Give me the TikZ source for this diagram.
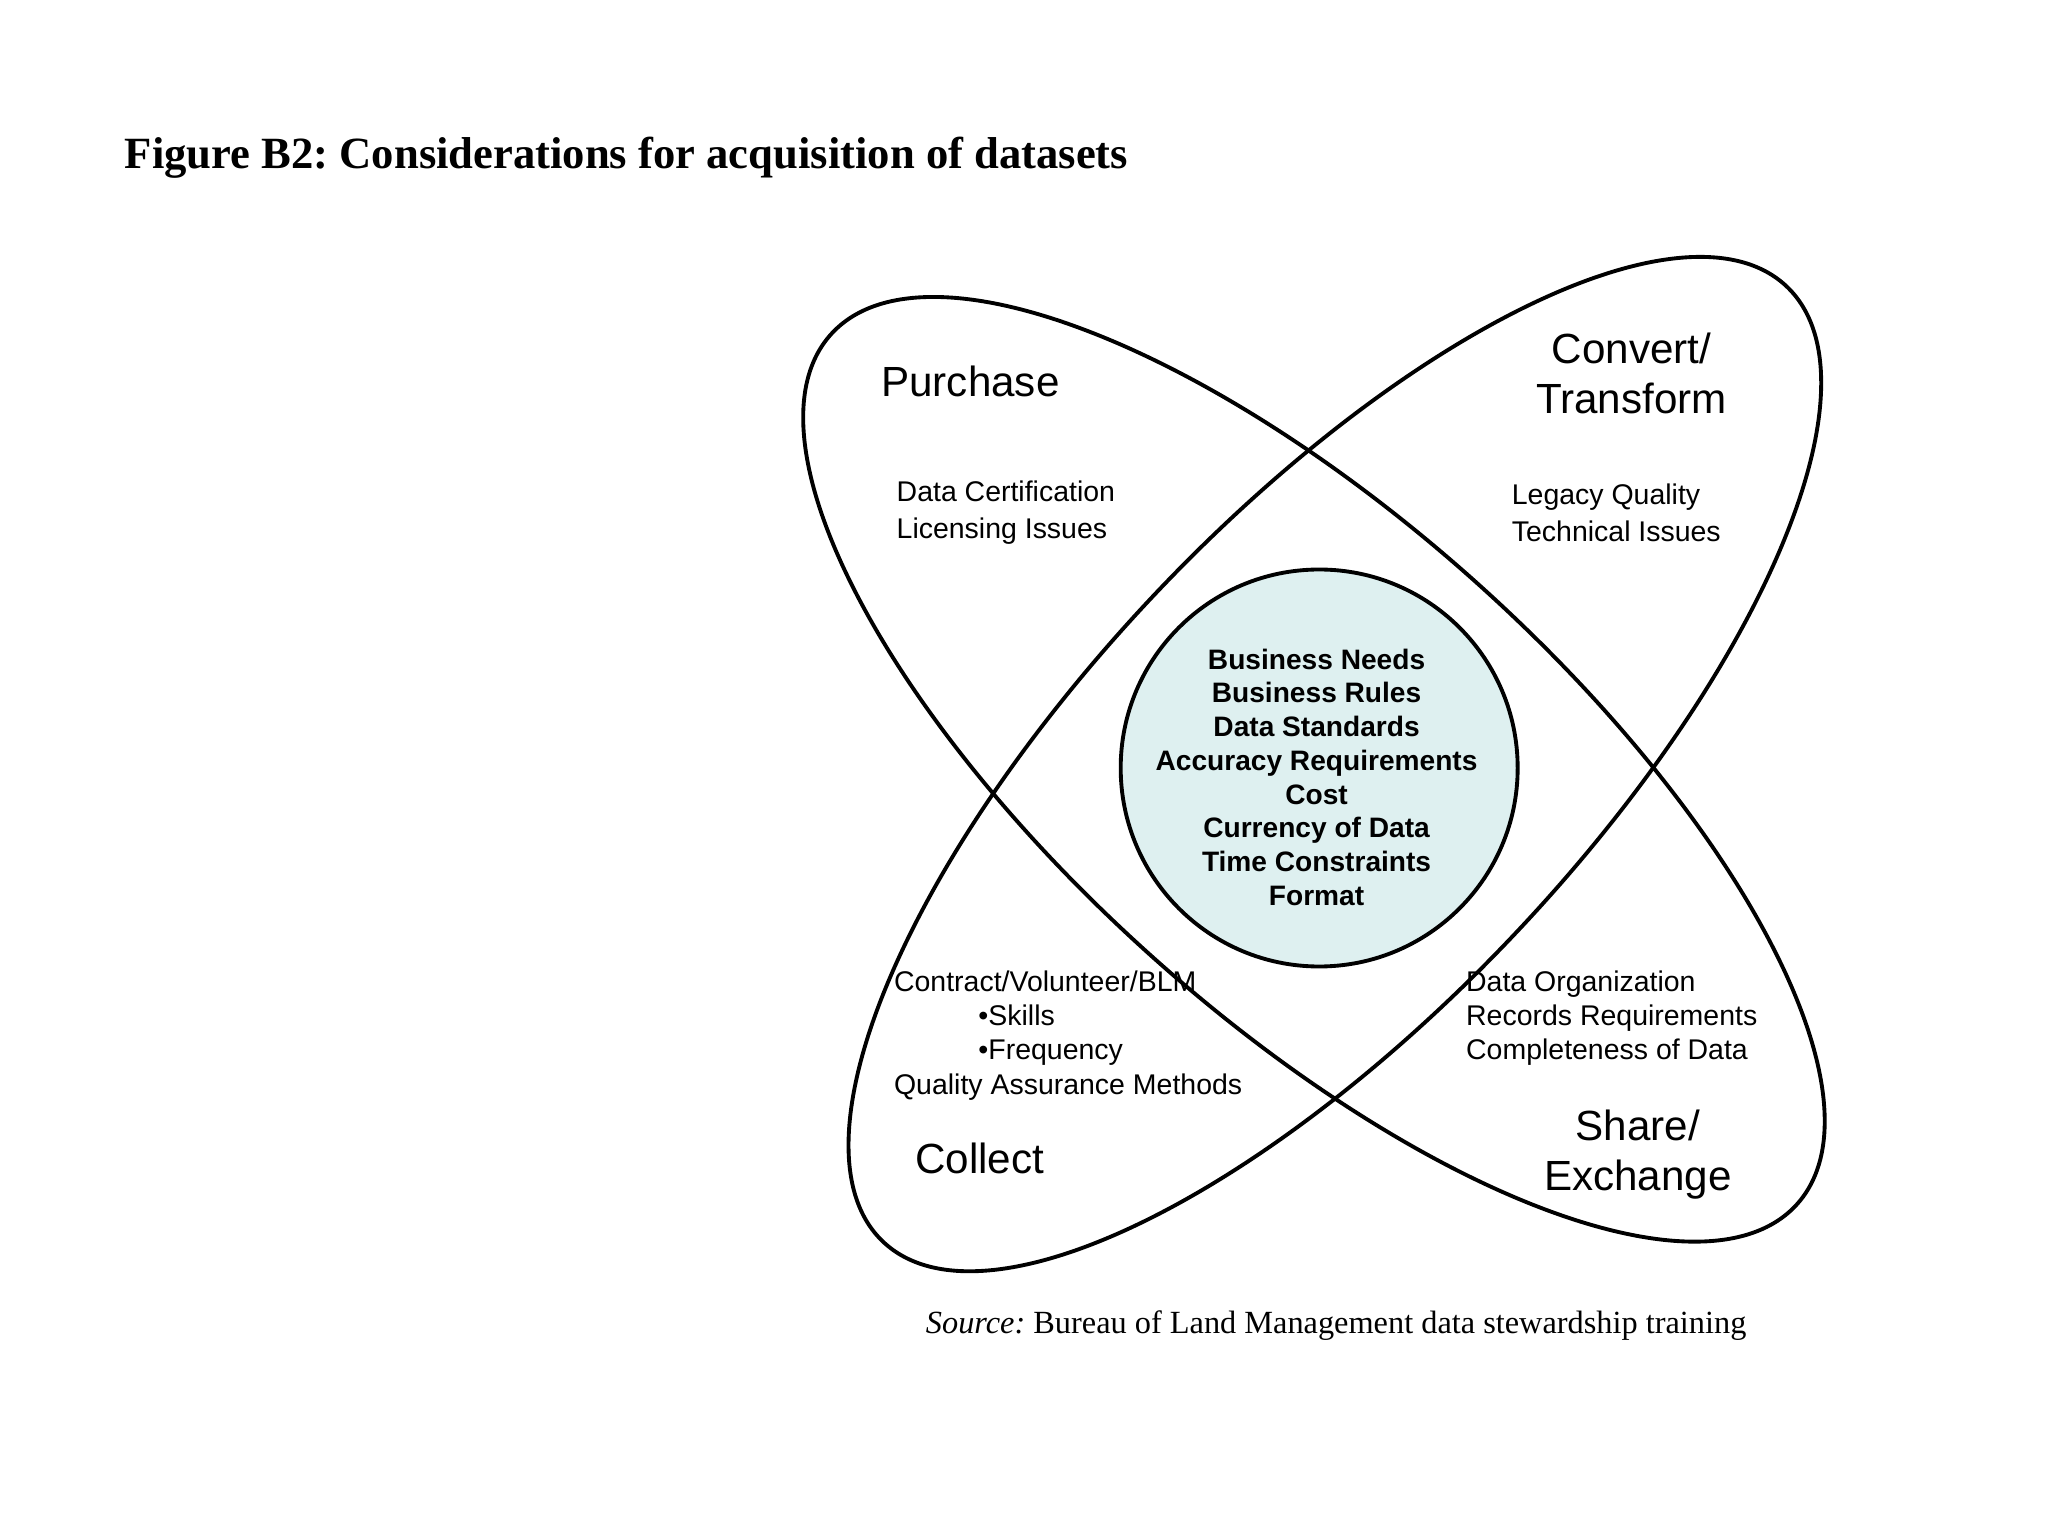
\documentclass[tikz,border=0pt]{standalone}
\usepackage{fontspec}
\setmainfont{Liberation Serif}
\setsansfont{Liberation Sans}
\usetikzlibrary{shapes.geometric}
\definecolor{mycyan}{RGB}{222,240,240}

\begin{document}
\frenchspacing
\begin{tikzpicture}[x=0.0130612cm,y=-0.0130612cm,
	every node/.style={inner sep=0pt,font=\sffamily},
	petal/.style={draw,ellipse,line width=1.1pt},
	core/.style={draw,circle,line width=1.1pt,fill=mycyan,minimum size=3.97cm},
	bigtext/.style={align=center,font=\sffamily\fontsize{12}{14.4}\selectfont},
	smalltext/.style={align=left,anchor=north west,font=\sffamily\fontsize{8.1}{9.7}\selectfont},
	coretext/.style={align=center,font=\sffamily\bfseries\fontsize{8}{9.6}\selectfont},
	]
	\useasboundingbox[fill=white] (0,0) rectangle (1568,1176);
	
	% the caption lines
	\node[anchor=base west,font=\rmfamily\bfseries\fontsize{12.7}{14}\selectfont] (title) at (95,129)
	{Figure B2: Considerations for acquisition of datasets};
	\node[anchor=base,font=\rmfamily\fontsize{9.2}{11}\selectfont] (src) at (1023,1021)
	{\textit{Source:} Bureau of Land Management data stewardship training};
	
	% the two petals
	\node[petal,minimum width=13.0cm,minimum height=4.95cm,rotate=-42] (p1) at (1006,589) {};
	\node[petal,minimum width=13.15cm,minimum height=4.95cm,rotate=46.6] (p2) at (1022,585) {};
	
	% the core
	\node[core] (c) at (1010,588) {};
	\node[coretext] (ct) at (1008,595) {Business Needs\\Business Rules\\Data Standards\\
		Accuracy Requirements\\Cost\\Currency of Data\\Time Constraints\\Format};
	
	% the four ends
	\node[bigtext] (pur) at (743,292) {Purchase};
	\node[bigtext] (conv) at (1249,286) {Convert/\\Transform};
	\node[bigtext] (coll) at (750,887) {Collect};
	\node[bigtext] (shr) at (1254,884) {Share/\\Exchange};
	
	% what to look at for each end
	\node[smalltext] (purx) at (686,368) {Data Certification\\[0.8pt]Licensing Issues};
	\node[smalltext] (convx) at (1157,370) {Legacy Quality\\[0.8pt]Technical Issues};
	\node[smalltext] (collx) at (684,743) {Contract/Volunteer/BLM\\
		\hspace*{24pt}\textbullet Skills\\\hspace*{24pt}\textbullet Frequency\\Quality Assurance Methods};
	\node[smalltext] (shrx) at (1122,743) {Data Organization\\Records Requirements\\Completeness of Data};
\end{tikzpicture}
\end{document}
